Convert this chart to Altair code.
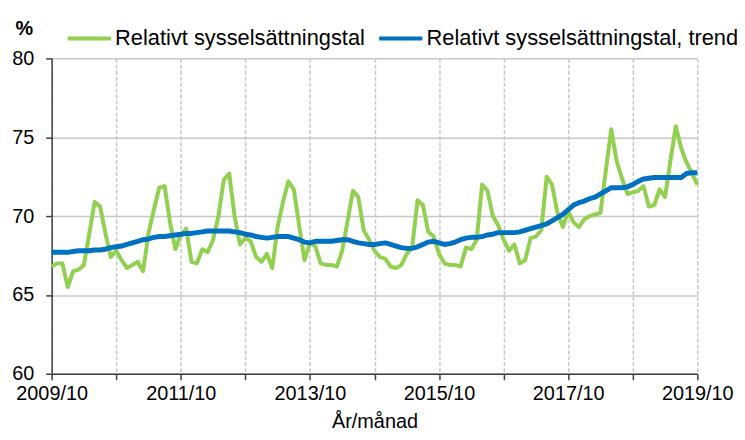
import altair as alt
import pandas as pd

# month index 0 = 2009/10 ... 120 = 2019/10
green_name = "Relativt sysselsättningstal"
blue_name = "Relativt sysselsättningstal, trend"

monthly = [
    66.8, 67.0, 67.0, 65.5, 66.5, 66.6, 66.9, 68.9, 70.9, 70.6, 68.9, 67.4,
    67.8, 67.2, 66.7, 66.9, 67.1, 66.5, 68.9, 70.4, 71.8, 71.9, 69.6, 67.9,
    68.8, 69.2, 67.1, 67.0, 67.9, 67.7, 68.5, 70.0, 72.3, 72.7, 70.0, 68.2,
    68.6, 68.4, 67.4, 67.1, 67.6, 66.7, 69.3, 70.9, 72.2, 71.7, 69.4, 67.2,
    68.3, 68.1, 67.0, 66.9, 66.9, 66.8, 67.8, 69.7, 71.6, 71.2, 69.1, 68.5,
    67.8, 67.4, 67.3, 66.8, 66.7, 66.9, 67.6, 68.0, 71.0, 70.7, 69.0, 68.7,
    67.6, 67.0, 66.9, 66.9, 66.8, 68.0, 67.9, 68.5, 72.0, 71.6, 70.0, 69.4,
    68.5, 67.8, 68.2, 67.0, 67.2, 68.6, 68.7, 69.1, 72.5, 72.0, 70.2, 69.3,
    70.3, 69.6, 69.3, 69.8, 70.0, 70.1, 70.2, 72.9, 75.5, 73.5, 72.4, 71.4,
    71.5, 71.6, 71.9, 70.6, 70.7, 71.7, 71.2, 73.5, 75.7, 74.3, 73.4, 72.7,
    72.0,
]

trend = [
    67.7, 67.7, 67.7, 67.7, 67.75, 67.8, 67.8, 67.8, 67.85, 67.85, 67.9, 68.0,
    68.05, 68.1, 68.2, 68.3, 68.4, 68.5, 68.55, 68.65, 68.7, 68.7, 68.75, 68.8,
    68.85, 68.9, 68.9, 68.95, 69.0, 69.05, 69.05, 69.05, 69.05, 69.05, 69.0, 68.95,
    68.85, 68.8, 68.7, 68.65, 68.6, 68.65, 68.7, 68.7, 68.7, 68.6, 68.5, 68.35,
    68.3, 68.4, 68.4, 68.4, 68.4, 68.45, 68.5, 68.5, 68.4, 68.3, 68.25, 68.2,
    68.2, 68.25, 68.3, 68.2, 68.1, 68.0, 67.95, 67.95, 68.05, 68.2, 68.35, 68.4,
    68.3, 68.2, 68.25, 68.35, 68.5, 68.6, 68.65, 68.65, 68.7, 68.8, 68.85, 68.95,
    68.95, 68.95, 68.95, 69.0, 69.1, 69.2, 69.3, 69.4, 69.5, 69.7, 69.9, 70.1,
    70.4, 70.7, 70.85, 70.95, 71.1, 71.2, 71.4, 71.6, 71.8, 71.8, 71.8, 71.85,
    72.0, 72.2, 72.35, 72.4, 72.45, 72.45, 72.45, 72.45, 72.45, 72.45, 72.7, 72.75,
    72.75,
]

tick_positions = [0, 12, 24, 36, 48, 60, 72, 84, 96, 108, 120]
tick_labels = ["2009/10", "", "2011/10", "", "2013/10", "", "2015/10", "",
               "2017/10", "", "2019/10"]
y_ticks = [60, 65, 70, 75, 80]

rows = []
for i, v in enumerate(monthly):
    rows.append({"idx": i, "value": v, "series": green_name})
for i, v in enumerate(trend):
    rows.append({"idx": i, "value": v, "series": blue_name})
df = pd.DataFrame(rows)

label_expr = "[" + ",".join("'" + t + "'" for t in tick_labels) + "][round(datum.value/12)]"
FONT = "Liberation Sans"

color = alt.Color(
    "series:N",
    scale=alt.Scale(domain=[green_name, blue_name], range=["#92D050", "#0070C0"]),
    legend=alt.Legend(
        title=None, orient="none", direction="horizontal",
        legendX=14, legendY=-44, symbolType="stroke", symbolSize=1900,
        symbolStrokeWidth=4, labelFontSize=22, labelFont=FONT, labelColor="#000000",
        labelOffset=2, columnPadding=6, padding=0, labelLimit=400,
    ),
)

x = alt.X(
    "idx:Q",
    scale=alt.Scale(domain=[0, 120], nice=False, zero=False),
    axis=alt.Axis(
        values=tick_positions, labelExpr=label_expr, title="År/månad",
        titleFont=FONT, titleFontSize=20, titleFontWeight="normal", titleColor="#000000",
        titlePadding=8, labelFont=FONT, labelFontSize=20, labelColor="#000000",
        labelPadding=4, tickSize=6, tickColor="#404040", tickWidth=1.5,
        domainColor="#404040", domainWidth=1.5, grid=True, gridColor="#C8C8C8",
        gridWidth=1.5, gridDash=[4, 2], labelOverlap=False, labelFlush=False,
    ),
)
y = alt.Y(
    "value:Q",
    scale=alt.Scale(domain=[60, 80], nice=False, zero=False),
    axis=alt.Axis(
        values=y_ticks, title="%", titleAngle=0, titleX=-28, titleY=-30,
        titleAlign="center", titleBaseline="middle", titleFont=FONT, titleFontSize=20,
        titleFontWeight="bold", titleColor="#000000",
        labelFont=FONT, labelFontSize=20, labelColor="#000000", labelPadding=12,
        tickSize=6, tickColor="#404040", tickWidth=1.5, domainColor="#404040",
        domainWidth=1.5, grid=True, gridColor="#C8C8C8", gridWidth=1.5,
    ),
)

green_line = alt.Chart(df).transform_filter(
    alt.datum.series == green_name
).mark_line(strokeWidth=4, strokeJoin="round").encode(x=x, y=y, color=color)

blue_line = alt.Chart(df).transform_filter(
    alt.datum.series == blue_name
).mark_line(strokeWidth=5, strokeJoin="round").encode(x=x, y=y, color=color)

chart = alt.layer(green_line, blue_line).properties(
    width=651, height=318,
    autosize=alt.AutoSizeParams(type="none"),
    padding={"left": 44, "top": 49, "right": 40, "bottom": 64},
    background="#FFFFFF",
).configure_view(stroke=None)

chart.save("out.html", embed_options={"renderer": "svg", "actions": False})
